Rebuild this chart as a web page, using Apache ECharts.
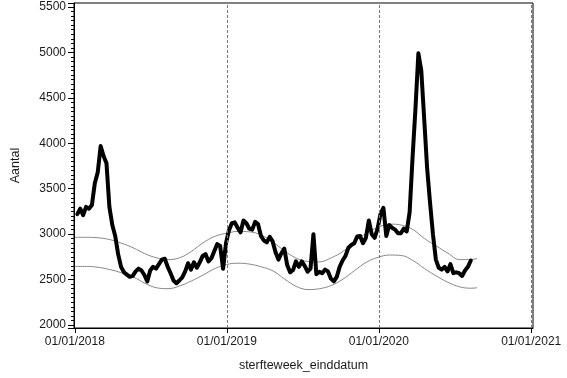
<!DOCTYPE html>
<html>
<head>
<meta charset="utf-8">
<script src="https://cdn.jsdelivr.net/npm/echarts@6/dist/echarts.min.js"></script>
<style>html,body{margin:0;padding:0;background:#fff}#c{width:567px;height:378px}</style>
</head>
<body>
<div id="c"></div>
<script>
// ---- data ----
const firstWeekEnd = '2018-01-07';           // weekly series, end date of first week
const deaths = [3220,3280,3210,3300,3280,3320,3560,3680,3970,3860,
 3780,3300,3100,2980,2780,2640,2580,2555,2530,2540,
 2590,2620,2600,2550,2480,2600,2640,2620,2670,2720,
 2730,2640,2570,2490,2460,2490,2525,2590,2680,2610,
 2690,2630,2690,2760,2780,2700,2735,2815,2890,2870,
 2620,2900,3040,3120,3130,3070,3020,3150,3120,3060,
 3050,3135,3110,2980,2930,2910,2970,2920,2800,2720,
 2790,2840,2660,2580,2605,2700,2640,2700,2650,2587,
 2620,3000,2560,2585,2570,2610,2590,2510,2480,2530,
 2640,2710,2760,2850,2880,2900,2975,2980,2900,2960,
 3150,3000,2960,3060,3220,3290,2980,3100,3070,3050,
 3010,3010,3060,3030,3240,3840,4380,4990,4800,4270,
 3730,3350,3000,2720,2630,2610,2640,2590,2670,2570,
 2580,2570,2540,2600,2640,2710];
const bandDates = ['2018-01-01','2018-01-29','2018-02-26','2018-03-26','2018-04-23','2018-05-21','2018-06-18','2018-07-16','2018-08-13','2018-09-10','2018-10-08','2018-11-05','2018-12-03','2018-12-31','2019-01-28','2019-02-25','2019-03-25','2019-04-22','2019-05-20','2019-06-17','2019-07-15','2019-08-12','2019-09-09','2019-10-07','2019-11-04','2019-12-02','2019-12-30','2020-01-27','2020-02-24','2020-03-23','2020-04-20','2020-05-18','2020-06-15','2020-07-13','2020-08-10','2020-08-24'];
const upperBand = [2965,2965,2960,2940,2900,2850,2785,2740,2720,2740,2810,2905,2975,3010,3030,3025,2990,2910,2815,2735,2700,2695,2740,2810,2920,3010,3075,3110,3100,3050,2950,2870,2790,2720,2720,2733];
const lowerBand = [2645,2645,2635,2610,2575,2530,2460,2410,2400,2430,2485,2550,2620,2665,2680,2670,2640,2595,2505,2425,2390,2400,2435,2505,2600,2690,2745,2770,2765,2710,2620,2540,2470,2420,2405,2410];
const yearTicks = ['2018-01-01','2019-01-01','2020-01-01','2021-01-01'];
const yTickLabels = [2000,2500,3000,3500,4000,4500,5000,5500];
const yMinorSplit = 10;

// ---- build ----
const ts = s => Date.parse(s + 'T00:00:00Z');
const DAY = 86400000;
const w0 = ts(firstWeekEnd);
const deathData = deaths.map((v, i) => [w0 + i * 7 * DAY, v]);
const upperData = upperBand.map((v, i) => [ts(bandDates[i]), v]);
const lowerData = lowerBand.map((v, i) => [ts(bandDates[i]), v]);
const yearVals = yearTicks.map(ts);
const pad = n => (n < 10 ? '0' : '') + n;
const fmtDate = t => { const d = new Date(t); return pad(d.getUTCDate()) + '/' + pad(d.getUTCMonth() + 1) + '/' + d.getUTCFullYear(); };

const xMin = ts('2017-12-30');
const xMax = xMin + 1102.3 * DAY;
const yMin = 1967, yMax = 5544;
const txt = '#1a1a1a';
const font = 'Liberation Sans, Arial, sans-serif';

const chart = echarts.init(document.getElementById('c'), null, {renderer: 'canvas'});
chart.setOption({
  animation: false,
  backgroundColor: '#fff',
  grid: {left: 74, right: 34, top: 3, bottom: 50, show: true, borderColor: '#000', borderWidth: 1, backgroundColor: 'transparent'},
  xAxis: {
    type: 'value', min: xMin, max: xMax,
    name: 'sterfteweek_einddatum', nameLocation: 'middle', nameGap: 31,
    nameTextStyle: {color: txt, fontSize: 12.5, fontFamily: font},
    axisLine: {show: true, lineStyle: {color: '#000', width: 1}},
    axisTick: {show: true, customValues: yearVals, length: 5, lineStyle: {color: '#000'}},
    axisLabel: {show: true, customValues: yearVals, formatter: v => fmtDate(v), color: txt, fontSize: 12, fontFamily: font, margin: 8},
    splitLine: {show: false}
  },
  yAxis: {
    type: 'value', min: yMin, max: yMax, splitNumber: 7, position: 'left',
    name: 'Aantal', nameLocation: 'middle', nameGap: 52, nameRotate: 90,
    nameTextStyle: {color: txt, fontSize: 12.5, fontFamily: font},
    axisLine: {show: true, lineStyle: {color: '#000', width: 1}},
    axisTick: {show: true, length: 6, lineStyle: {color: '#000'}},
    minorTick: {show: true, splitNumber: yMinorSplit, length: 3, lineStyle: {color: '#000', width: 1}},
    axisLabel: {show: true, showMinLabel: false, showMaxLabel: false, formatter: v => (yTickLabels.indexOf(v) >= 0 ? String(v) : ''), color: txt, fontSize: 12, fontFamily: font, margin: 8},
    splitLine: {show: false}, minorSplitLine: {show: false}
  },
  series: [
    {type: 'line', data: upperData, smooth: 0.4, showSymbol: false, symbol: 'none',
     lineStyle: {color: '#888', width: 1}, silent: true, z: 2},
    {type: 'line', data: lowerData, smooth: 0.4, showSymbol: false, symbol: 'none',
     lineStyle: {color: '#888', width: 1}, silent: true, z: 2},
    {type: 'line', data: deathData, showSymbol: false, symbol: 'none',
     lineStyle: {color: '#000', width: 4, join: 'round', cap: 'round'}, silent: true, z: 3,
     markLine: {silent: true, symbol: 'none', label: {show: false},
       lineStyle: {color: '#777', width: 1, type: [3, 2]},
       data: yearVals.slice(1).map(v => ({xAxis: v}))}}
  ]
});
</script>
</body>
</html>
